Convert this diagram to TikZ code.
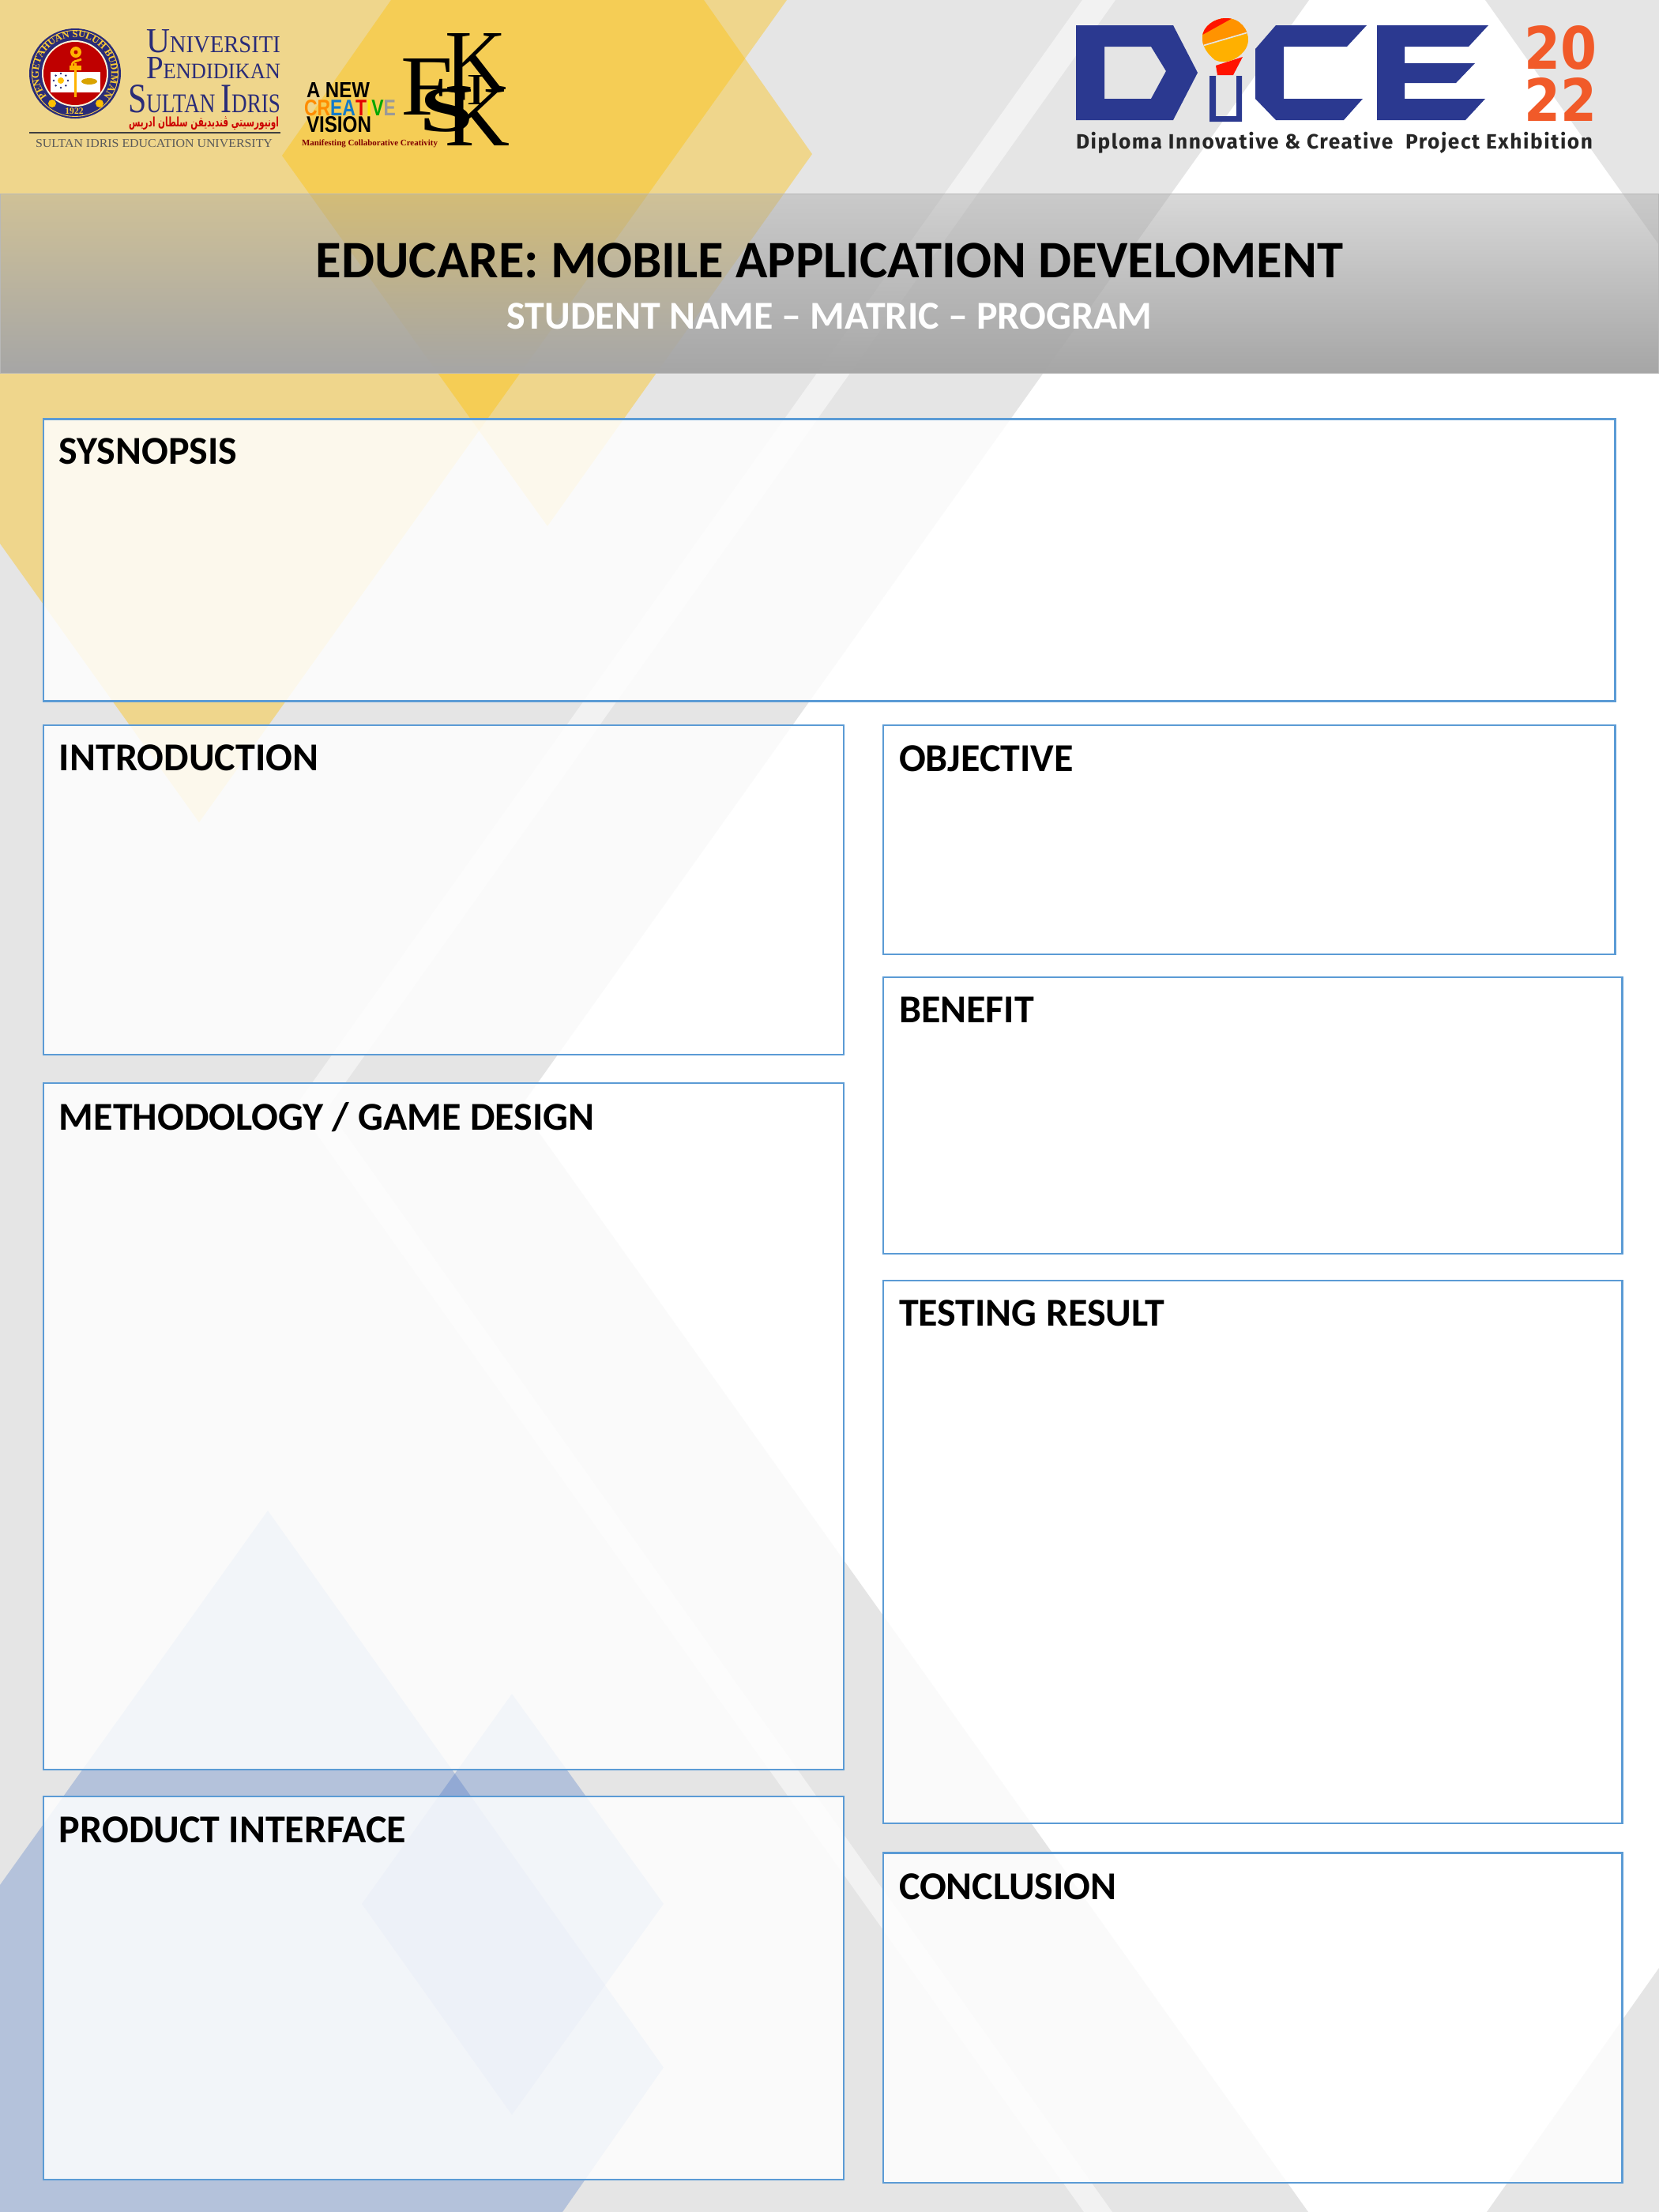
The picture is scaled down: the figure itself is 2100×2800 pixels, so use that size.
\documentclass[tikz,border=0pt]{standalone}
\usepackage{graphicx}
\usepackage{fontspec}
\usetikzlibrary{fadings,decorations.text}
\setmainfont{Carlito}
\newfontfamily\lserif{Liberation Serif}
\newfontfamily\lsans{Liberation Sans}
\newfontfamily\fira[LetterSpace=6]{Fira Sans}
\newfontfamily\arabicfont[Script=Arabic]{DejaVu Sans}
\TeXXeTstate=1
\newdimen\pxu \pxu=0.36pt
\definecolor{bggray}{HTML}{E5E5E5}
\definecolor{stripegray}{HTML}{F2F2F2}
\definecolor{gold}{HTML}{FFC000}
\definecolor{officeblue}{HTML}{4472C4}
\definecolor{panelblue}{HTML}{5B9BD5}
\definecolor{hdrgray}{HTML}{A6A6A6}
\definecolor{upsiblue}{HTML}{2A2C78}
\definecolor{dicenavy}{HTML}{2B3990}
\definecolor{diceorange}{HTML}{F15A29}
\tikzfading[name=hdrfade, top color=transparent!57, bottom color=transparent!0]
\tikzset{
  panel/.style={draw=panelblue,fill=white,fill opacity=0.84,line width=1.05pt,inner sep=0pt,outer sep=0pt,rectangle},
  paneltitle/.style={inner sep=0pt,outer sep=0pt,font=\fontsize{18}{22}\selectfont\bfseries,text=black},
  logotext/.style={inner sep=0pt,outer sep=0pt},
}
\newcommand\panelbox[7]{%
  \node[panel,anchor=north west,minimum width={(#4-#2)*0.36pt},minimum height={(#5-#3)*0.36pt}] (#1) at (#2,#3) {};
  \node[paneltitle,anchor=base west] (#1t) at (#2+20,#7+1.5) {#6};
}
\begin{document}
\begin{tikzpicture}[x=0.36pt,y=-0.36pt]
\useasboundingbox (0,0) rectangle (2100,2800);
\fill[white] (0,0) rectangle (2100,2800);
% background
\fill[bggray] (0,0) -- (1657,0) -- (659,1401) -- (1656,2800) -- (0,2800) -- cycle;
\fill[bggray] (1880,0) -- (2100,0) -- (2100,310) -- cycle;
\fill[bggray] (1882,2800) -- (2100,2491) -- (2100,2800) -- cycle;
\fill[stripegray] (1370,0) -- (1412,0) -- (414,1403) -- (1408,2800) -- (1372,2800) -- (375,1399) -- cycle;
\fill[gold,opacity=0.39] (0,0) -- (996,0) -- (252,1041) -- (0,688) -- cycle;
\fill[gold,opacity=0.39] (495,0) -- (891,0) -- (1028,195) -- (693,666) -- (357,197) -- cycle;
\fill[officeblue,opacity=0.30] (339,1912) -- (840,2617) -- (712,2800) -- (0,2800) -- (0,2386) -- cycle;
\fill[officeblue,opacity=0.30] (648,2144) -- (840,2410) -- (648,2677) -- (458,2410) -- cycle;
% header band
\fill[hdrgray,path fading=hdrfade] (0,245.5) rectangle (2100,472.5);
\draw[hdrgray!80,line width=0.5pt] (0,245.5) rectangle (2100,472.5);
\node[inner sep=0pt,anchor=base,font=\fontsize{24}{28}\selectfont\bfseries,text=black] (title) at (1050,351) {EDUCARE: MOBILE APPLICATION DEVELOMENT};
\node[inner sep=0pt,anchor=base,font=\fontsize{18}{22}\selectfont\bfseries,text=white] (subtitle) at (1050,416) {STUDENT NAME – MATRIC – PROGRAM};
% panels
\panelbox{synopsis}{55}{530.5}{2044.5}{887.5}{SYSNOPSIS}{585.7}
\panelbox{intro}{55}{918}{1068}{1335}{INTRODUCTION}{974}
\panelbox{method}{55}{1371}{1068}{2240}{METHODOLOGY / GAME DESIGN}{1428.6}
\panelbox{product}{55}{2274}{1068}{2759}{PRODUCT INTERFACE}{2330.6}
\panelbox{objective}{1118}{918}{2044.5}{1208}{OBJECTIVE}{975}
\panelbox{benefit}{1118}{1237}{2053.5}{1587}{BENEFIT}{1293}
\panelbox{testing}{1118}{1621}{2053.5}{2308}{TESTING RESULT}{1677}
\panelbox{conclusion}{1118}{2345.5}{2053.5}{2763}{CONCLUSION}{2403}
% UPSI seal
\fill[upsiblue] (95,93) ellipse[x radius=58,y radius=57];
\draw[gold!70!white,line width=0.3pt] (95,93) circle[radius=54.5];
\fill[white!85!gold] (95,93) circle[radius=42];
\fill[red!75!black] (95,93) circle[radius=40];
\begin{scope}[shift={(95,93)},x=0.36pt,y=0.36pt]
\path[decorate,decoration={text along path,text align=center,text={|\fontsize{4.5}{5}\selectfont\bfseries\lserif\color{gold!80!white}|PENGETAHUAN SULUH BUDIMAN}}] (218:46) arc[start angle=218,end angle=-38,radius=46];
\end{scope}
\fill[gold] (66,131) circle[radius=5];
\fill[gold] (126,131) circle[radius=5];
\node[logotext,text=gold!80!white,font=\fontsize{4.2}{5}\selectfont\bfseries\lserif] (sealyear) at (94,141) {1922};
\fill[white] (64,91) rectangle (94,117);
\fill[white] (97,91) rectangle (127,117);
\fill[gold!80!orange] (94,80) rectangle (97,123);
\fill[gold!80!orange] (88,83) rectangle (103,89);
\draw[gold!80!orange,line width=1pt] (91,83) .. controls (92,76) and (97,78) .. (103,75);
\fill[gold!80!orange] (96,66) circle[radius=7];
\fill[red!75!black] (96,66) circle[radius=2.5];
\fill[gold] (77,102) circle[radius=4];
\foreach \a in {0,45,...,315} \fill[upsiblue] (77,102) ++(\a:9) circle[radius=1.3];
\fill[gold!85!black] (113,103) ellipse[x radius=10,y radius=4];
% UPSI wordmark
\node[logotext,anchor=base west,text=upsiblue] (uni) at (185,66) {\resizebox{170\pxu}{29\pxu}{\lserif\fontsize{29}{30}\selectfont U\fontsize{20}{30}\selectfont NIVERSITI}};
\node[logotext,anchor=base west,text=upsiblue] (pend) at (185,99) {\resizebox{170\pxu}{27\pxu}{\lserif\fontsize{28}{30}\selectfont P\fontsize{19}{30}\selectfont ENDIDIKAN}};
\node[logotext,anchor=base west,text=upsiblue] (sultan) at (162,142) {\resizebox{193\pxu}{35\pxu}{\lserif\fontsize{34}{30}\selectfont S\fontsize{22}{30}\selectfont ULTAN \fontsize{34}{30}\selectfont I\fontsize{22}{30}\selectfont DRIS}};
\node[logotext,anchor=base west,text=red!80!black] (jawi) at (163,160) {\resizebox{190\pxu}{13\pxu}{\arabicfont\bfseries\beginR اونيورسيتي ڤنديديقن سلطان ادريس\endR}};
\coordinate (rulea) at (37,168); \coordinate (ruleb) at (355,168);
\draw[black!75,line width=0.7pt] (rulea) -- (ruleb);
\node[logotext,anchor=base west,text=black!65] (upsien) at (45,186) {\resizebox{300\pxu}{10\pxu}{\lserif SULTAN IDRIS EDUCATION UNIVERSITY}};
% A new creative vision
\node[logotext,anchor=base west,text=black] (anew) at (388,123) {\resizebox{80\pxu}{19\pxu}{\lsans\bfseries A NEW}};
\node[logotext,anchor=base west] (creative) at (385,146) {\resizebox{116\pxu}{20\pxu}{\lsans\bfseries\textcolor{orange!90!yellow}{CR}\textcolor{cyan!60!blue}{EA}\textcolor{red!90!black}{T}\textcolor{yellow!90!orange}{I}\textcolor{green!65!black}{V}\textcolor{black!40}{E}}};
\node[logotext,anchor=base west,text=black] (vision) at (388,167) {\resizebox{82\pxu}{20\pxu}{\lsans\bfseries VISION}};
\node[logotext,anchor=base west,text=red!50!black] (manifest) at (382,184) {\resizebox{172\pxu}{!}{\lserif\bfseries Manifesting Collaborative Creativity}};
% FSKIK monogram
\node[logotext,anchor=base west,text=black] (mkb) at (563,184) {\resizebox{82\pxu}{71\pxu}{\lserif K}};
\node[logotext,anchor=base west,text=black] (mkt) at (563,113) {\resizebox{78\pxu}{71\pxu}{\lserif K}};
\node[logotext,anchor=base west,text=black] (mf) at (507,145) {\resizebox{66\pxu}{71\pxu}{\lserif F}};
\node[logotext,anchor=base west,text=black] (ms) at (531,166) {\resizebox{68\pxu}{54\pxu}{\lserif\bfseries S}};
\node[logotext,anchor=base west,text=black] (mi) at (590,132) {\resizebox{26\pxu}{37\pxu}{\lserif I}};
% DICE logo
\fill[dicenavy,even odd rule] (1362,32) -- (1485,32) -- (1516,92) -- (1485,152) -- (1362,152) -- cycle (1398,59) -- (1457,59) -- (1476,90) -- (1457,125) -- (1398,125) -- cycle;
\fill[dicenavy] (1531,96) -- (1539,96) -- (1539,147) -- (1565,147) -- (1565,96) -- (1572,96) -- (1572,154) -- (1531,154) -- cycle;
\fill[red!85!orange] (1539,83) -- (1573,72) -- (1561,95) -- (1541,95) -- cycle;
\begin{scope}
\clip (1552,23) .. controls (1570,23) and (1581,38) .. (1580,52) .. controls (1579,62) and (1572,70) .. (1560,76) .. controls (1552,79) and (1544,79) .. (1538,76) .. controls (1528,68) and (1521,58) .. (1522,46) .. controls (1523,34) and (1536,23) .. (1552,23) -- cycle;
\fill[gold!75!orange] (1515,15) rectangle (1590,85);
\fill[orange!85!yellow] (1515,60) -- (1590,38) -- (1590,15) -- (1555,15) -- (1515,45) -- cycle;
\fill[red!85!orange] (1515,48) -- (1560,23) -- (1556,15) -- (1515,15) -- cycle;
\draw[white!80!gray,line width=0.6pt] (1515,60) -- (1590,38);
\end{scope}
\fill[dicenavy] (1589,62) -- (1615,32) -- (1730,32) -- (1705,59) -- (1625,59) -- (1625,125) -- (1725,125) -- (1701,152) -- (1615,152) -- (1589,125) -- cycle;
\fill[dicenavy] (1743,32) -- (1884,32) -- (1859,59) -- (1778,59) -- (1778,80) -- (1867,80) -- (1843,105) -- (1778,105) -- (1778,125) -- (1880,125) -- (1855,152) -- (1743,152) -- cycle;
\node[logotext,anchor=base west,text=diceorange] (yr1) at (1929,87) {\resizebox{92\pxu}{55\pxu}{\fontspec{DejaVu Sans}\bfseries 20}};
\node[logotext,anchor=base west,text=diceorange] (yr2) at (1929,153) {\resizebox{92\pxu}{55\pxu}{\fontspec{DejaVu Sans}\bfseries 22}};
\node[logotext,anchor=base west,text=black!85] (dipl) at (1362,188) {\resizebox{654\pxu}{!}{\fira\bfseries Diploma Innovative \& Creative\ \ Project Exhibition}};
\end{tikzpicture}
\end{document}
